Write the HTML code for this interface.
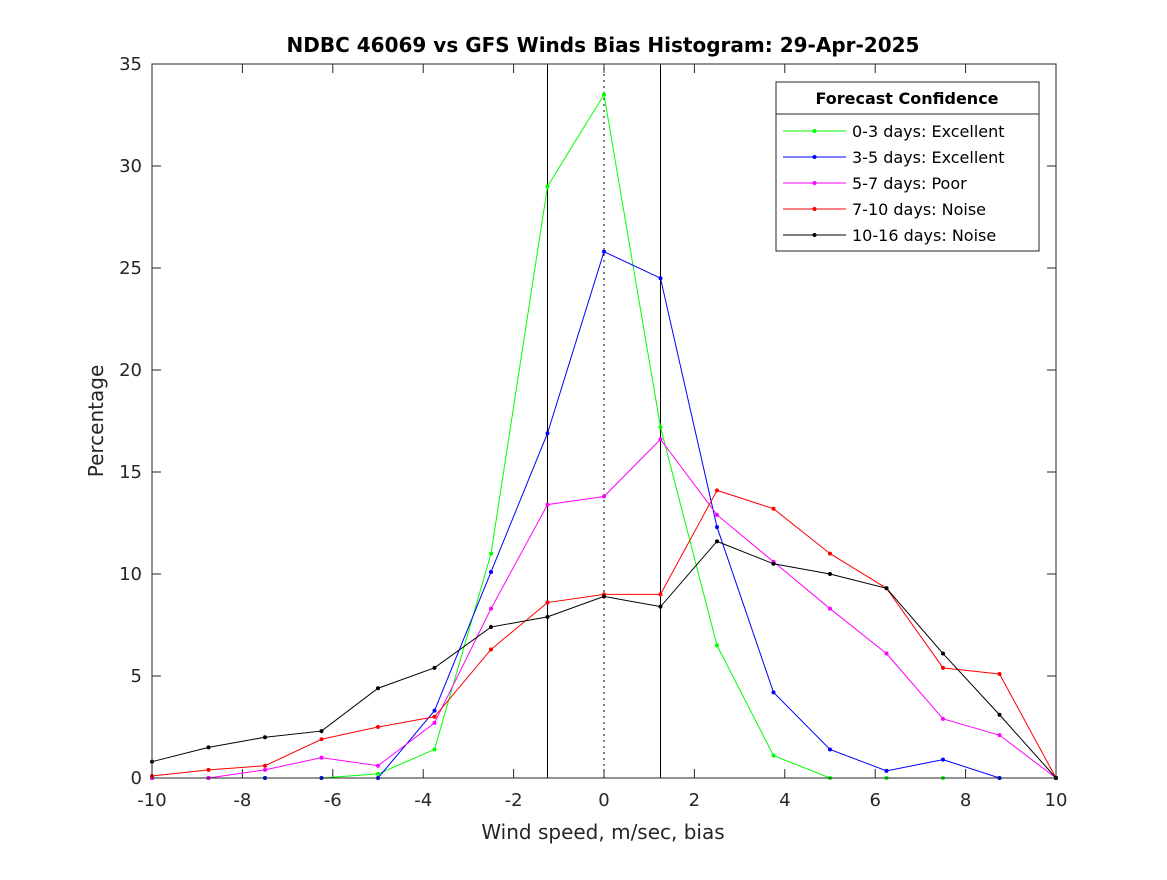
<!DOCTYPE html>
<html><head><meta charset="utf-8"><style>
body{margin:0;background:#fff;}
svg{font-family:"DejaVu Sans","Liberation Sans",sans-serif;}
</style></head><body>
<svg id="chart" width="1167" height="875">
<rect x="0" y="0" width="1167" height="875" fill="#fff"/>
<text x="603" y="52" text-anchor="middle" font-size="20" font-weight="bold">NDBC 46069 vs GFS Winds Bias Histogram: 29-Apr-2025</text>
<g id="axes"></g>
<g id="series"></g>
<rect x="152" y="64" width="904" height="714" fill="none" stroke="#262626" stroke-width="1"/>
<text x="603" y="839" text-anchor="middle" font-size="20" fill="#262626">Wind speed, m/sec, bias</text>
<text transform="translate(103,421) rotate(-90)" text-anchor="middle" font-size="20" fill="#262626">Percentage</text>
<g id="legend">
<rect x="776" y="82" width="263" height="169" fill="#fff" stroke="#262626"/>
<line x1="776" y1="114" x2="1039" y2="114" stroke="#262626"/>
<text x="907" y="104" text-anchor="middle" font-size="16" font-weight="bold">Forecast Confidence</text>
</g>
</svg>
<script>
const xValues=[-10,-8.75,-7.5,-6.25,-5,-3.75,-2.5,-1.25,0,1.25,2.5,3.75,5,6.25,7.5,8.75,10];
const seriesLabels=["0-3 days: Excellent","3-5 days: Excellent","5-7 days: Poor","7-10 days: Noise","10-16 days: Noise"];
const seriesColors=["#00ff00","#0000ff","#ff00ff","#ff0000","#000000"];
const green=[0,0,0,0,0.2,1.4,11,29,33.5,17.2,6.5,1.1,0,0,0,0,0];
const blue=[0,0,0,0,0,3.3,10.1,16.9,25.8,24.5,12.3,4.2,1.4,0.35,0.9,0,0];
const magenta=[0,0,0.4,1.0,0.6,2.7,8.3,13.4,13.8,16.6,12.9,10.6,8.3,6.1,2.9,2.1,0];
const red=[0.1,0.4,0.6,1.9,2.5,3.0,6.3,8.6,9.0,9.0,14.1,13.2,11.0,9.3,5.4,5.1,0];
const black=[0.8,1.5,2.0,2.3,4.4,5.4,7.4,7.9,8.9,8.4,11.6,10.5,10.0,9.3,6.1,3.1,0];
const xTicks=[-10,-8,-6,-4,-2,0,2,4,6,8,10];
const yTicks=[0,5,10,15,20,25,30,35];
const refLines=[-1.25,0,1.25];
const NS="http://www.w3.org/2000/svg";
const X0=152,X1=1056,Y0=778,Y1=64;
const xs=v=>X0+(v+10)/20*(X1-X0);
const ys=v=>Y0-v/35*(Y0-Y1);
function mk(tag,attrs,parent){const e=document.createElementNS(NS,tag);for(const k in attrs)e.setAttribute(k,attrs[k]);parent.appendChild(e);return e;}
const axes=document.getElementById('axes');
xTicks.forEach(t=>{
  const l=mk('line',{x1:xs(t),x2:xs(t),y1:Y0,y2:Y0-9,stroke:'#262626'},axes);
  
  
  const l2=mk('line',{x1:xs(t),x2:xs(t),y1:Y1,y2:Y1+9,stroke:'#262626'},axes);
  
  
  const tx=mk('text',{x:xs(t),y:Y0+28,'text-anchor':'middle','font-size':18,fill:'#262626'},axes);
  tx.textContent=t;
  
  
});
yTicks.forEach(t=>{
  const l=mk('line',{x1:X0,x2:X0+9,y1:ys(t),y2:ys(t),stroke:'#262626'},axes);
  
  
  const l2=mk('line',{x1:X1,x2:X1-9,y1:ys(t),y2:ys(t),stroke:'#262626'},axes);
  
  
  const tx=mk('text',{x:X0-10,y:ys(t)+6,'text-anchor':'end','font-size':18,fill:'#262626'},axes);
  tx.textContent=t;
  
  
});
refLines.forEach(r=>{
  const l=mk('line',{x1:xs(r),x2:xs(r),y1:Y0,y2:Y1,stroke:'#000','stroke-width':1},axes);
  if(r===0)l.setAttribute('stroke-dasharray','2,4');
  
  
});
const allSeries=[green,blue,magenta,red,black];
const sg=document.getElementById('series');
allSeries.forEach((s,i)=>{
  const pts=s.map((v,j)=>xs(xValues[j])+','+ys(v)).join(' ');
  const pl=mk('polyline',{points:pts,fill:'none',stroke:seriesColors[i],'stroke-width':1},sg);
  
  
  s.forEach((v,j)=>{
    const c=mk('circle',{cx:xs(xValues[j]),cy:ys(v),r:2,fill:seriesColors[i]},sg);
    
    
  });
});
const lg=document.getElementById('legend');
seriesLabels.forEach((lab,i)=>{
  const y=131+i*26;
  const l=mk('line',{x1:783,x2:846,y1:y,y2:y,stroke:seriesColors[i]},lg);
  
  
  const c=mk('circle',{cx:814.5,cy:y,r:2,fill:seriesColors[i]},lg);
  
  
  const t=mk('text',{x:852,y:y+6,'font-size':16,fill:'#000'},lg);
  t.textContent=lab;
  
  
});
</script>
</body></html>
